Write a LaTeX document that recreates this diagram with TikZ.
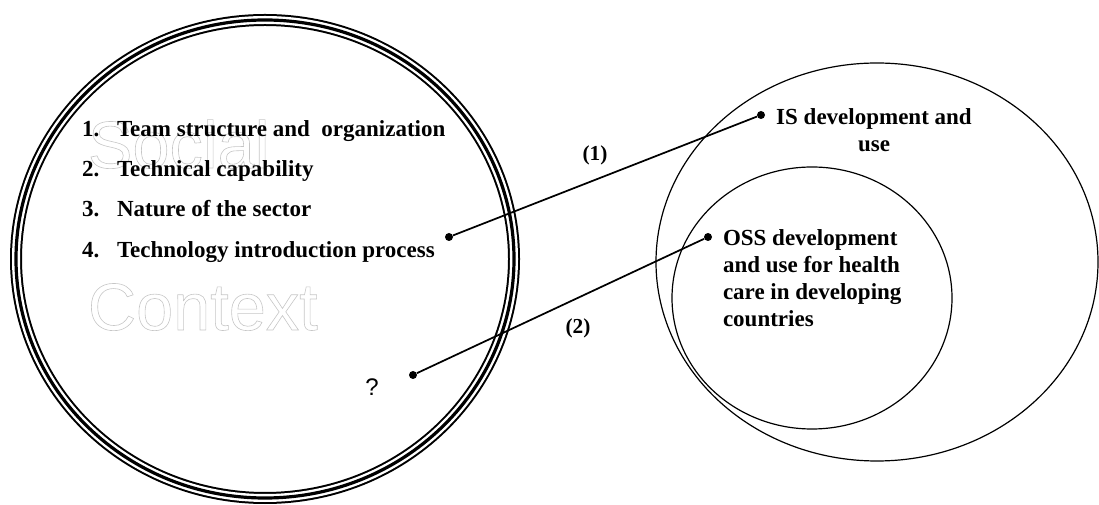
\documentclass[tikz,border=0pt]{standalone}
\usepackage{fontspec}
\setmainfont{Liberation Serif}
\setsansfont{Liberation Sans}
\usetikzlibrary{positioning}
\newcommand\hollow[1]{\special{pdf:literal direct 1 Tr 0.45 w}#1\special{pdf:literal direct 0 Tr}}

\begin{document}
\begin{tikzpicture}[
      x=0.75pt, y=-0.75pt,
      font=\bfseries\fontsize{17.25}{20.25}\selectfont,
      base/.style = {inner sep=0pt, outer sep=0pt},
      % --- Estilos ---
      item/.style = {base, anchor=base west},
      ghost/.style = {base, anchor=base west, text=gray!45, font=\sffamily\mdseries\fontsize{50}{50}\selectfont},
      dot/.style = {circle, fill=black, inner sep=0pt, minimum size=6pt},
      link/.style = {line width=1.3pt},
      ring/.style = {line width=0.9pt},
      tag/.style = {base, font=\bfseries\fontsize{16}{18}\selectfont}
    ]
      \useasboundingbox (0,0) rectangle (1099,505);

      % --- SOCIAL CONTEXT (circulo triplo) ---
      \draw[line width=9pt] (265,259) ellipse [x radius=249, y radius=239];
      \draw[white, line width=6pt] (265,259) ellipse [x radius=249, y radius=239];
      \draw[line width=2.4pt] (265,259) ellipse [x radius=249, y radius=239];

      \node[ghost] (social) at (88,168) {\hollow{Social}};
      \node[ghost] (context) at (88,330) {\hollow{Context}};

      % --- Fatores ---
      \node[item] (n1) at (82,137) {1.};
      \node[item] (n2) at (82,177) {2.};
      \node[item] (n3) at (82,217) {3.};
      \node[item] (n4) at (82,258) {4.};
      \node[item] (f1) at (117,137) {Team structure and \ organization};
      \node[item] (f2) at (117,177) {Technical capability};
      \node[item] (f3) at (117,217) {Nature of the sector};
      \node[item] (f4) at (117,258) {Technology introduction process};

      \node[dot] (pfac) at (449,237) {};
      \node[dot] (pask) at (413,375) {};
      \node[base, font=\sffamily\mdseries\fontsize{18}{18}\selectfont] (ask) at (372,387) {?};

      % --- IS / OSS ---
      \draw[ring] (877,262) ellipse [x radius=221, y radius=199];
      \draw[ring] (812,298) ellipse [x radius=140, y radius=131];

      \node[dot] (pis) at (761,115) {};
      \node[dot] (poss) at (708,237) {};
      % anchor=base fica na ultima linha
      \node[base, anchor=base, align=center] (is) at (874,152) {IS development and\\use};
      \node[base, anchor=base west, align=left] (oss) at (723,327) {OSS development\\and use for health\\care in developing\\countries};

      % Conexoes
      \draw[link] (pfac) -- (pis);
      \draw[link] (pask) -- (poss);
      \node[tag] (l1) at (595,155) {(1)};
      \node[tag] (l2) at (578,328) {(2)};

    \end{tikzpicture}
\end{document}
